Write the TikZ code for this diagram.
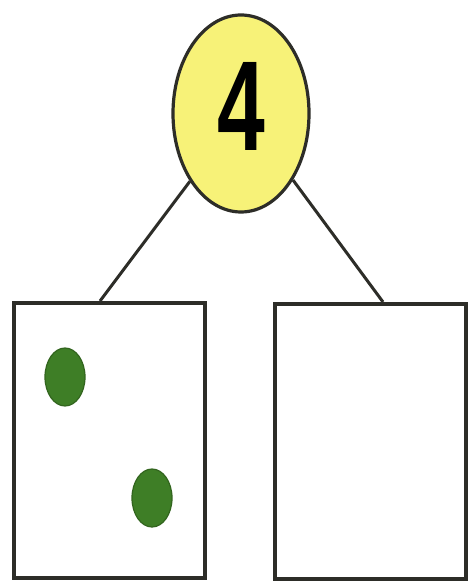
\documentclass[tikz,border=0pt]{standalone}
\usepackage{fontspec}
\usepackage{graphicx}
\usepackage{tikz}
\usetikzlibrary{positioning,shapes.geometric}
\newfontfamily\digitfont{Liberation Sans}
\definecolor{paleyellow}{RGB}{247,242,120}
\definecolor{peagreen}{RGB}{62,126,38}
\definecolor{inkgray}{RGB}{45,45,40}
\tikzset{
    numbubble/.style={ellipse, draw=inkgray, fill=paleyellow, line width=1.6pt, minimum width=68pt, minimum height=98.5pt, inner sep=0pt, text depth=7.5pt},
    partbox/.style={rectangle, draw=inkgray, fill=white, line width=2pt, minimum width=95.5pt, minimum height=137.5pt, inner sep=0pt},
    pea/.style={ellipse, fill=peagreen, draw=peagreen!80!black, line width=0.6pt, minimum width=20pt, minimum height=29pt, inner sep=0pt},
    link/.style={draw=inkgray, line width=1.5pt}
}
\begin{document}
\begin{tikzpicture}[x=0.5pt, y=-0.5pt]
    \useasboundingbox[fill=white] (0,0) rectangle (469,581);

    % Whole
    \node[numbubble] (whole) at (241,113.5) {\digitfont\bfseries\fontsize{64}{64}\selectfont\scalebox{0.67}[1]{4}};

    % Parts
    \node[partbox] (leftbox) at (109.5,440.5) {};
    \node[partbox] (rightbox) at (370.5,441.5) {};

    % Dots in the left part
    \node[pea] (peaA) at (65,377) {};
    \node[pea] (peaB) at (152,498) {};

    % Links
    \draw[link] (whole.-127) -- ([xshift=-4.75pt]leftbox.north);
    \draw[link] (whole.-52) -- ([xshift=6.25pt]rightbox.north);
\end{tikzpicture}
\end{document}
